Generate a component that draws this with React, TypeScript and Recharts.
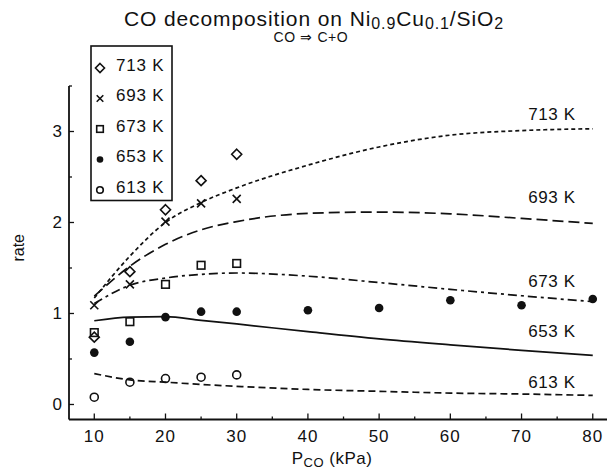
import React from "react";
import { ComposedChart, Line, Scatter, XAxis, YAxis } from "recharts";

// model curves (lines)
const fitPressure = [10, 15, 20, 25, 30, 40, 50, 60, 70, 80];
const fit713 = [1.17, 1.63, 2.0, 2.22, 2.38, 2.63, 2.83, 2.96, 3.01, 3.03];
const fit693 = [1.19, 1.52, 1.76, 1.92, 2.01, 2.1, 2.115, 2.095, 2.045, 1.99];
const fit673 = [1.11, 1.31, 1.39, 1.43, 1.445, 1.41, 1.34, 1.265, 1.195, 1.13];
const fit653 = [0.92, 0.96, 0.965, 0.925, 0.885, 0.8, 0.72, 0.655, 0.595, 0.54];
const fit613 = [0.34, 0.27, 0.245, 0.22, 0.2, 0.165, 0.145, 0.125, 0.115, 0.1];

// measured points
const obsPressure = [10, 15, 20, 25, 30];
const obs713 = [0.74, 1.46, 2.14, 2.46, 2.75];
const obs693 = [1.09, 1.32, 2.01, 2.21, 2.26];
const obs673 = [0.79, 0.91, 1.32, 1.53, 1.55];
const obs613 = [0.08, 0.245, 0.285, 0.3, 0.325];
const obsPressure653 = [10, 15, 20, 25, 30, 40, 50, 60, 70, 80];
const obs653 = [0.57, 0.69, 0.96, 1.02, 1.02, 1.035, 1.06, 1.145, 1.09, 1.16];

const temps = ["713 K", "693 K", "673 K", "653 K", "613 K"];
const curveLabelPressure = 77.6;
const curveLabelRate = [3.19, 2.27, 1.35, 0.8, 0.245];

const xTicks = [10, 15, 20, 25, 30, 35, 40, 45, 50, 55, 60, 65, 70, 75, 80];
const yTicks = [0, 0.5, 1, 1.5, 2, 2.5, 3, 3.5];

const FONT = "'Liberation Sans', Arial, sans-serif";
const INK = "#111";

type Kind = "diamond" | "cross" | "square" | "dot" | "circle";
const kinds: Kind[] = ["diamond", "cross", "square", "dot", "circle"];

const toRows = (xs: number[], ys: number[]) => xs.map((p, i) => ({ p, r: ys[i] }));

function marker(kind: Kind, cx: number, cy: number, s: number) {
  const sw = 1.6;
  switch (kind) {
    case "diamond":
      return (
        <path
          d={`M${cx} ${cy - s}L${cx + s} ${cy}L${cx} ${cy + s}L${cx - s} ${cy}Z`}
          fill="none"
          stroke={INK}
          strokeWidth={sw}
        />
      );
    case "cross":
      return (
        <path
          d={`M${cx - s} ${cy - s}L${cx + s} ${cy + s}M${cx - s} ${cy + s}L${cx + s} ${cy - s}`}
          stroke={INK}
          strokeWidth={sw}
        />
      );
    case "square":
      return (
        <rect x={cx - s} y={cy - s} width={2 * s} height={2 * s} fill="none" stroke={INK} strokeWidth={sw} />
      );
    case "dot":
      return <circle cx={cx} cy={cy} r={s} fill={INK} />;
    default:
      return <circle cx={cx} cy={cy} r={s} fill="none" stroke={INK} strokeWidth={sw} />;
  }
}

const plotSize: Record<Kind, number> = { diamond: 5, cross: 4, square: 3.8, dot: 4.3, circle: 4 };

const XTick = (props: any) => {
  const { x, y, payload } = props;
  const major = payload.value % 10 === 0;
  return (
    <g>
      <line x1={x} y1={y} x2={x} y2={y - (major ? 6 : 3)} stroke={INK} strokeWidth={1.3} />
      {major && (
        <text
          x={x}
          y={y + 22}
          textAnchor="middle"
          fontSize={17}
          letterSpacing={1}
          fontFamily={FONT}
          fill={INK}
        >
          {payload.value}
        </text>
      )}
    </g>
  );
};

const YTick = (props: any) => {
  const { x, y, payload } = props;
  const major = Number.isInteger(payload.value);
  return (
    <g>
      <line x1={x} y1={y} x2={x + (major ? 5 : 3)} y2={y} stroke={INK} strokeWidth={1.3} />
      {major && (
        <text x={x - 7} y={y + 6} textAnchor="end" fontSize={17} fontFamily={FONT} fill={INK}>
          {payload.value}
        </text>
      )}
    </g>
  );
};

const XLabel = (props: any) => {
  const vb = props.viewBox;
  return (
    <text
      x={vb.x + vb.width / 2 - 6}
      y={vb.y + 44}
      textAnchor="middle"
      fontSize={17}
      letterSpacing={0.5}
      fontFamily={FONT}
      fill={INK}
    >
      P
      <tspan fontSize={13} dy={3}>
        CO
      </tspan>
      <tspan dy={-3}> (kPa)</tspan>
    </text>
  );
};

const YLabel = (props: any) => {
  const vb = props.viewBox;
  const cy = vb.y + vb.height / 2 - 5;
  return (
    <text
      x={18}
      y={cy}
      transform={`rotate(-90 18 ${cy})`}
      textAnchor="middle"
      dominantBaseline="central"
      fontSize={16}
      fontFamily={FONT}
      fill={INK}
    >
      rate
    </text>
  );
};

const curves = [fit713, fit693, fit673, fit653, fit613];
const dashes = ["4 3", "11 5", "9 4 3 4", undefined, "7 4"];
const points = [
  toRows(obsPressure, obs713),
  toRows(obsPressure, obs693),
  toRows(obsPressure, obs673),
  toRows(obsPressure653, obs653),
  toRows(obsPressure, obs613),
];
const labelRows = temps.map((t, i) => ({ p: curveLabelPressure, r: curveLabelRate[i], t }));

export default function App() {
  return (
    <div style={{ position: "absolute", left: 0, top: 0, width: 607, height: 470, background: "#fff" }}>
      <ComposedChart
        width={607}
        height={470}
        margin={{ top: 86, right: 0, bottom: 20.5, left: 9 }}
      >
        <XAxis
          dataKey="p"
          type="number"
          domain={[6.45, 82]}
          allowDataOverflow
          ticks={xTicks}
          interval={0}
          tickSize={0}
          tickMargin={0}
          tickLine={false}
          tick={<XTick />}
          axisLine={{ stroke: INK, strokeWidth: 2.2 }}
          height={30}
          label={<XLabel />}
        />
        <YAxis
          type="number"
          domain={[-0.165, 3.5]}
          allowDataOverflow
          ticks={yTicks}
          interval={0}
          tickSize={0}
          tickMargin={0}
          tickLine={false}
          tick={<YTick />}
          axisLine={{ stroke: INK, strokeWidth: 1.8 }}
          width={60}
          label={<YLabel />}
        />
        {curves.map((c, i) => (
          <Line
            key={temps[i]}
            data={toRows(fitPressure, c)}
            dataKey="r"
            type="monotone"
            stroke={INK}
            strokeWidth={1.7}
            strokeDasharray={dashes[i]}
            dot={false}
            activeDot={false}
            isAnimationActive={false}
          />
        ))}
        {points.map((rows, i) => (
          <Scatter
            key={"pts" + temps[i]}
            data={rows}
            dataKey="r"
            isAnimationActive={false}
            shape={(p: any) => marker(kinds[i], p.cx, p.cy, plotSize[kinds[i]])}
          />
        ))}
        <Scatter
          data={labelRows}
          dataKey="r"
          isAnimationActive={false}
          shape={(p: any) => (
            <text
              x={p.cx}
              y={p.cy}
              textAnchor="end"
              dominantBaseline="central"
              fontSize={17}
              letterSpacing={0.6}
              fontFamily={FONT}
              fill={INK}
            >
              {p.payload.t}
            </text>
          )}
        />
      </ComposedChart>
      <svg
        width={607}
        height={470}
        style={{ position: "absolute", left: 0, top: 0, pointerEvents: "none" }}
      >
        <text
          x={314}
          y={26}
          textAnchor="middle"
          fontSize={21}
          letterSpacing={0.9}
          fontFamily={FONT}
          fill={INK}
        >
          CO decomposition on Ni
          <tspan fontSize={16} dy={3}>0.9</tspan>
          <tspan dy={-3}>Cu</tspan>
          <tspan fontSize={16} dy={3}>0.1</tspan>
          <tspan dy={-3}>/SiO</tspan>
          <tspan fontSize={16} dy={3}>2</tspan>
        </text>
        <text
          x={311}
          y={41.5}
          textAnchor="middle"
          fontSize={14}
          letterSpacing={0.6}
          fontFamily={FONT}
          fill={INK}
        >
          CO ⇒ C+O
        </text>
        <rect x={91} y={46} width={81} height={154.5} fill="#fff" stroke={INK} strokeWidth={1.6} />
        {temps.map((t, i) => {
          const cy = 65 + i * 30.5;
          return (
            <g key={"leg" + t}>
              {marker(kinds[i], 100, cy + 3, kinds[i] === "diamond" ? 4.5 : 3.3)}
              <text
                x={116}
                y={cy}
                dominantBaseline="central"
                fontSize={17}
                letterSpacing={0.8}
                fontFamily={FONT}
                fill={INK}
              >
                {t}
              </text>
            </g>
          );
        })}
      </svg>
    </div>
  );
}
